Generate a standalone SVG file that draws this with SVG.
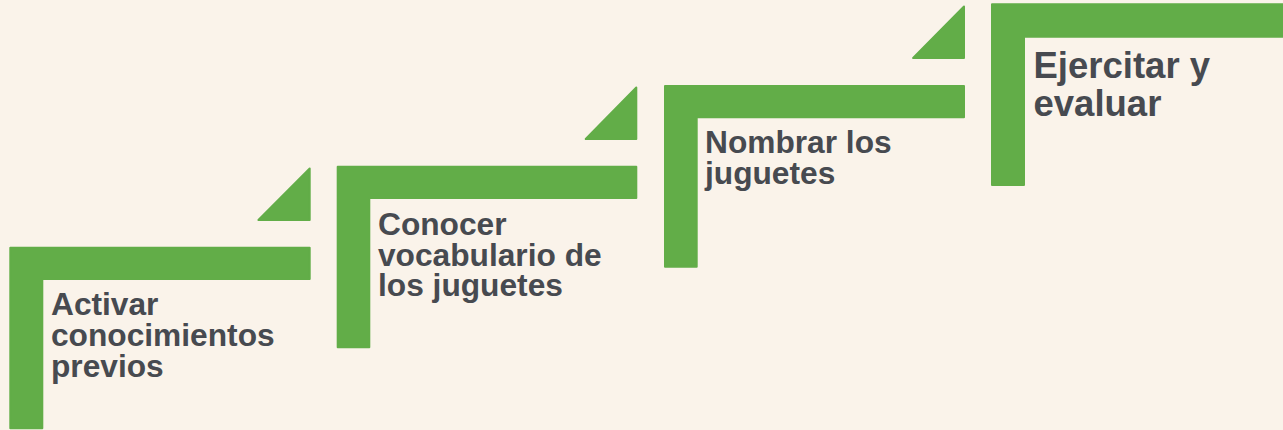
<svg xmlns="http://www.w3.org/2000/svg" width="1283" height="430" viewBox="0 0 1283 430">
  <style>
    .bg { fill: #FAF3EA; }
    .g { fill: #62AD48; stroke: #62AD48; stroke-width: 2; stroke-linejoin: round; }
    .t { font-family: "Liberation Sans", Arial, Helvetica, sans-serif; font-weight: bold; fill: #474A50; font-size: 31.7px; }
    .t4 { font-size: 36.5px; }
  </style>
  <rect class="bg" x="0" y="0" width="1283" height="430"/>

  <g id="step1">
    <polygon class="g" points="10.3,247.7 309.7,247.7 309.7,279 42.3,279 42.3,428.3 10.3,428.3"/>
    <polygon class="g" points="309.7,168.4 258.4,220 309.7,220"/>
    <text class="t" x="51" y="315">Activar</text>
    <text class="t" x="51" y="346">conocimientos</text>
    <text class="t" x="51" y="377">previos</text>
  </g>

  <g id="step2">
    <polygon class="g" points="337.7,166.7 636.3,166.7 636.3,198 369.3,198 369.3,347.3 337.7,347.3"/>
    <polygon class="g" points="636.3,87.4 585.7,139 636.3,139"/>
    <text class="t" x="378" y="235">Conocer</text>
    <text class="t" x="378" y="265.7">vocabulario de</text>
    <text class="t" x="378" y="296">los juguetes</text>
  </g>

  <g id="step3">
    <polygon class="g" points="665,86 964,86 964,117.3 696.7,117.3 696.7,266.7 665,266.7"/>
    <polygon class="g" points="964,6.4 913.1,58 964,58"/>
    <text class="t" x="705" y="153.3">Nombrar los</text>
    <text class="t" x="705" y="184.3">juguetes</text>
  </g>

  <g id="step4">
    <polygon class="g" points="992,4.3 1290,4.3 1290,36.7 1024,36.7 1024,185 992,185"/>
    <text class="t t4" x="1033.5" y="78.3">Ejercitar y</text>
    <text class="t t4" x="1033.5" y="116">evaluar</text>
  </g>

  <g id="connectors"></g>
</svg>
